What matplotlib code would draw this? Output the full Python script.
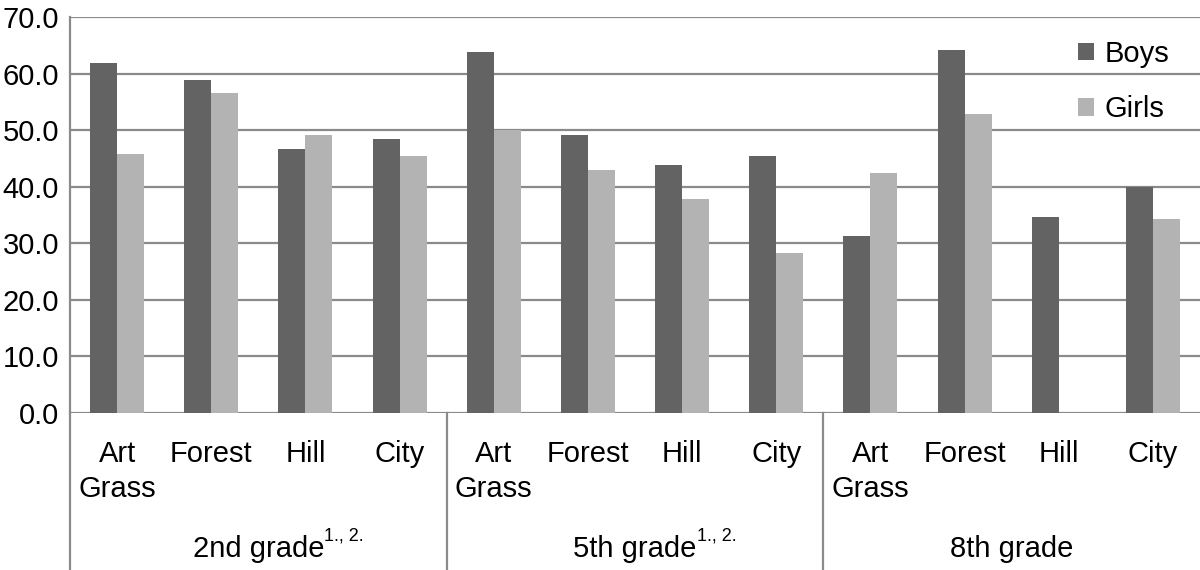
import numpy as np
import matplotlib.pyplot as plt
from matplotlib.lines import Line2D

# category names, grade groups and the two series
categories = ["Art\nGrass", "Forest", "Hill", "City"] * 3
grades = ["2nd grade", "5th grade", "8th grade"]
grade_notes = ["1., 2.", "1., 2.", ""]
boys = [61.9, 58.9, 46.6, 48.5, 63.9, 49.1, 43.8, 45.4, 31.2, 64.1, 34.6, 39.9]
girls = [45.8, 56.5, 49.1, 45.5, 50.1, 43.0, 37.8, 28.3, 42.4, 52.9, 0.0, 34.3]
yticks = np.arange(0, 71, 10)

plt.rcParams['font.family'] = ['Liberation Sans', 'DejaVu Sans']
grid_col = "#8a8a8a"
fs = 21

fig = plt.figure(figsize=(12, 5.7), dpi=100)
ax = fig.add_axes([70 / 1200, 157 / 570, 1130 / 1200, 396 / 570])

x = np.arange(len(categories))
w = 0.287
ax.bar(x - w / 2, boys, w, color="#636363", label="Boys", zorder=3)
ax.bar(x + w / 2, girls, w, color="#b3b3b3", label="Girls", zorder=3)

ax.set_xlim(-0.5, len(categories) - 0.5)
ax.set_ylim(0, 70)
ax.set_yticks(yticks)
ax.set_yticklabels([f"{v:.1f}" for v in yticks], fontsize=fs)
ax.tick_params(axis="y", length=0, pad=8)
ax.set_xticks([])
ax.yaxis.grid(True, color=grid_col, linewidth=1.6, zorder=0)
for s in ["top", "right", "bottom"]:
    ax.spines[s].set_visible(False)
ax.spines["left"].set_color(grid_col)
ax.spines["left"].set_linewidth(1.6)

# category labels below the axis
tr = ax.get_xaxis_transform()
for xi, c in zip(x, categories):
    ax.text(xi, -27 / 396, c, transform=tr, ha="center", va="top",
            fontsize=fs, linespacing=1.33)

# grade group labels (with superscript notes) and separators
for g, (name, note) in enumerate(zip(grades, grade_notes)):
    cx = g * 4 + 1.5
    t = ax.text(cx, -136 / 396, name, transform=tr, ha="center", va="center", fontsize=fs)
    if note:
        ax.annotate(note, xy=(1.0, 0.95), xycoords=t, ha="left", va="center", fontsize=13)

for sx in [-0.5, 3.5, 7.5]:
    ax.add_line(Line2D([sx, sx], [0, -160 / 396], transform=tr, color=grid_col,
                       linewidth=1.6, clip_on=False))

ax.legend(loc="upper left", bbox_to_anchor=((1078 - 70) / 1130, (413 - 40) / 396),
          frameon=False, fontsize=fs, handlelength=0.55, handleheight=0.55,
          handletextpad=0.35, labelspacing=0.93, borderpad=0, borderaxespad=0)

fig.savefig("out.png", dpi=100)
